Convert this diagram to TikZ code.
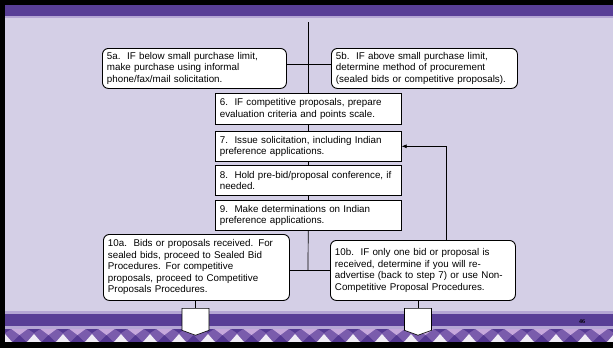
\documentclass[tikz,border=0pt]{standalone}
\usepackage{fontspec}
\setmainfont{Liberation Sans}
\newfontfamily\numfont{Liberation Serif}
\usetikzlibrary{arrows.meta, shapes.symbols}
\definecolor{slidebg}{RGB}{212,207,230}
\definecolor{bandpurple}{RGB}{88,62,150}
\definecolor{stripe}{RGB}{180,166,212}
\definecolor{zigbase}{RGB}{122,92,172}
\definecolor{zigdark}{RGB}{84,56,146}
\definecolor{zigpink}{RGB}{198,168,220}
\definecolor{zigwhite}{RGB}{240,236,246}

\begin{document}
\begin{tikzpicture}[x=1pt, y=-1pt, line width=0.7pt,
    stepbox/.style={draw, fill=white, line width=0.6pt, anchor=north west,
      align=left, inner xsep=4.5pt, inner ysep=0pt,
      font=\fontsize{9.8}{11.5}\selectfont},
    choicebox/.style={stepbox, rounded corners=6pt, line width=0.9pt},
    offpage/.style={draw, fill=white, line width=0.6pt, signal, signal to=south,
      signal pointer angle=140, minimum width=27pt, minimum height=22pt,
      inner sep=0pt, anchor=north}]
    \useasboundingbox (0,0) rectangle (613,348);
    \fill[slidebg] (0,0) rectangle (613,348);
    \fill[bandpurple] (5,5) rectangle (613,17);
    \fill[stripe] (5,16) rectangle (613,17.5);
    \fill[stripe] (5,311) rectangle (613,314);
    \fill[bandpurple] (5,314) rectangle (613,326);
    \fill[stripe] (5,326) rectangle (613,329);
    \fill[zigbase] (5,329) rectangle (613,342);
    \foreach \i in {0,...,21} {
      \fill[zigdark] (19.5+29*\i-7,342) -- (19.5+29*\i+7,342) -- (19.5+29*\i,335) -- cycle;
      \fill[zigwhite] (5+29*\i-7,342) -- (5+29*\i+7,342) -- (5+29*\i,334) -- cycle;
      \fill[zigpink] (19.5+29*\i-8,329) -- (19.5+29*\i+8,329) -- (19.5+29*\i,335) -- cycle;
      \fill[zigdark] (5+29*\i-6,329) -- (5+29*\i+6,329) -- (5+29*\i,333) -- cycle;
    }
    \fill[black] (0,0) rectangle (613,5);
    \fill[black] (0,0) rectangle (5,348);
    \fill[black] (0,342) rectangle (613,348);

    \node[choicebox, text width=175pt, minimum height=40pt] (s5a) at (102,48)
      {5a.\ \ IF below small purchase limit,\\ make purchase using informal\\ phone/fax/mail solicitation.};
    \node[choicebox, text width=177pt, minimum height=40pt] (s5b) at (331,48)
      {5b.\ \ IF above small purchase limit,\\ determine method of procurement\\ (sealed bids or competitive proposals).};
    \node[stepbox, text width=177pt, minimum height=31pt] (s6) at (215,93)
      {6.\ \ IF competitive proposals, prepare\\ evaluation criteria and points scale.};
    \node[stepbox, text width=177pt, minimum height=30pt] (s7) at (215,131)
      {7.\ \ Issue solicitation, including Indian\\ preference applications.};
    \node[stepbox, text width=177pt, minimum height=30pt] (s8) at (215,165)
      {8.\ \ Hold pre-bid/proposal conference, if\\ needed.};
    \node[stepbox, text width=177pt, minimum height=30pt] (s9) at (215,200)
      {9.\ \ Make determinations on Indian\\ preference applications.};
    \node[choicebox, text width=177pt, minimum height=66pt] (s10a) at (103,234)
      {10a.\ \ Bids or proposals received. For\\ sealed bids, proceed to Sealed Bid\\ Procedures. For competitive\\ proposals, proceed to Competitive\\ Proposals Procedures.};
    \node[choicebox, text width=176pt, minimum height=60pt] (s10b) at (330,240)
      {10b.\ \ IF only one bid or proposal is\\ received, determine if you will re-\\ advertise (back to step 7) or use Non-\\ Competitive Proposal Procedures.};

    \node[offpage] (p10a) at (195.5,308) {};
    \node[offpage] (p10b) at (418,308) {};
    \node[font=\numfont\fontsize{6}{7}\selectfont\bfseries] (pagenum) at (582,322) {46};

    \coordinate (top) at (308,22);
    \coordinate (join) at (308,270);
    \coordinate (fb) at (446,146);

    \draw (top) -- (top |- s6.north);
    \draw ([yshift=4pt]s5a.east) -- ([yshift=4pt]s5b.west);
    \draw (s6) -- (s7);
    \draw (s7) -- (s8);
    \draw (s8) -- (s9);
    \draw (s9) -- (join);
    \draw (s10a.east |- join) -- (s10b.west |- join);
    \draw[-{Latex[length=5pt,width=4pt]}] (fb |- s10b.north) |- (s7.east);
    \draw (p10a |- s10a.south) -- (p10a);
    \draw (p10b |- s10b.south) -- (p10b);
  \end{tikzpicture}
\end{document}
